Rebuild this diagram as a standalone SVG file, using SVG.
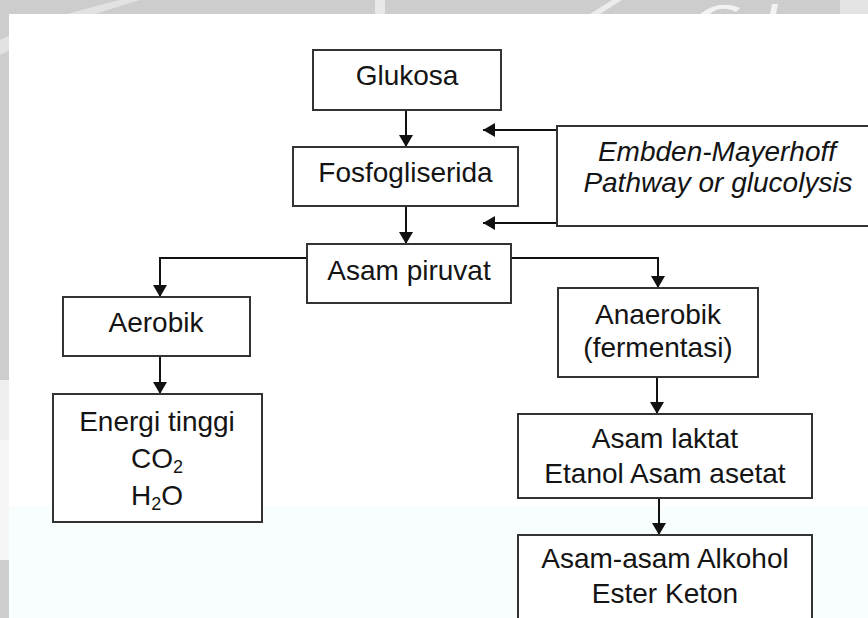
<svg xmlns="http://www.w3.org/2000/svg" width="868" height="618" viewBox="0 0 868 618">
  <defs>
    <marker id="ah" markerUnits="userSpaceOnUse" markerWidth="13" markerHeight="14" refX="12" refY="7" orient="auto">
      <path d="M0,0 L12,7 L0,14 z" fill="#111"/>
    </marker>
    <style>
      .box { fill: #ffffff; stroke: #333333; stroke-width: 2; }
      .t { font-family: "Liberation Sans", Arial, sans-serif; font-size: 28px; fill: #141414; text-anchor: middle; }
      .it { font-style: italic; }
      .sub { font-size: 18px; }
      .c { fill: none; stroke: #111111; stroke-width: 2; }
      .ca { fill: none; stroke: #111111; stroke-width: 2; marker-end: url(#ah); }
    </style>
  </defs>

  <!-- background -->
  <g id="background">
    <rect x="0" y="0" width="868" height="618" fill="#cdcdcd"/>
    <path d="M0,40 C40,20 80,10 120,0 L140,0 C100,12 60,24 0,55 z" fill="#e2e2e2"/>
    <rect x="375" y="0" width="10" height="14" fill="#e8e8e8"/>
    <path d="M590,14 L612,0 L622,0 L600,14 z" fill="#ececec"/>
    <path d="M700,14 C712,4 728,2 740,8 L736,12 C726,7 716,8 710,14 z" fill="#f2f2f2"/>
    <path d="M770,14 L772,4 L778,4 L776,14 z" fill="#f2f2f2"/>
    <rect x="840" y="0" width="28" height="14" fill="#e4e4e4"/>
    <rect x="0" y="380" width="9" height="60" fill="#efefef"/>
    <rect x="0" y="440" width="9" height="120" fill="#f6f6f6"/>
    <rect x="9" y="14" width="859" height="492" fill="#ffffff"/>
    <rect x="9" y="506" width="859" height="112" fill="#f8fdfe"/>
  </g>

  <!-- connectors -->
  <g id="connectors">
    <line class="ca" x1="406" y1="110" x2="406" y2="147"/>
    <line class="ca" x1="406" y1="206" x2="406" y2="244"/>
    <line class="ca" x1="557" y1="130" x2="483" y2="130"/>
    <line class="ca" x1="557" y1="223" x2="483" y2="223"/>
    <polyline class="ca" points="307,258 160,258 160,297"/>
    <polyline class="ca" points="511,258 658,258 658,288"/>
    <line class="ca" x1="160" y1="356" x2="160" y2="394"/>
    <line class="ca" x1="657" y1="377" x2="657" y2="414"/>
    <line class="ca" x1="659" y1="498" x2="659" y2="535"/>
  </g>

  <g id="glukosa">
    <rect class="box" x="313" y="50" width="188" height="60"/>
    <text class="t" x="407" y="85">Glukosa</text>
  </g>

  <g id="fosfogliserida">
    <rect class="box" x="293" y="147" width="225" height="59"/>
    <text class="t" x="405.5" y="182">Fosfogliserida</text>
  </g>

  <g id="embden">
    <rect class="box" x="557" y="126" width="314" height="100"/>
    <text class="t it" x="717" y="161">Embden-Mayerhoff</text>
    <text class="t it" x="718" y="192">Pathway or glucolysis</text>
  </g>

  <g id="asam-piruvat">
    <rect class="box" x="307" y="244" width="204" height="59"/>
    <text class="t" x="409" y="280">Asam piruvat</text>
  </g>

  <g id="aerobik">
    <rect class="box" x="63" y="297" width="187" height="59"/>
    <text class="t" x="156" y="332">Aerobik</text>
  </g>

  <g id="energi">
    <rect class="box" x="53" y="394" width="209" height="128"/>
    <text class="t" x="157" y="431">Energi tinggi</text>
    <text class="t" x="157" y="468">CO<tspan class="sub" dy="5">2</tspan></text>
    <text class="t" x="157" y="505">H<tspan class="sub" dy="5">2</tspan><tspan dy="-5">O</tspan></text>
  </g>

  <g id="anaerobik">
    <rect class="box" x="558" y="288" width="200" height="89"/>
    <text class="t" x="658" y="324">Anaerobik</text>
    <text class="t" x="658" y="357">(fermentasi)</text>
  </g>

  <g id="asam-laktat">
    <rect class="box" x="518" y="414" width="294" height="84"/>
    <text class="t" x="665" y="448">Asam laktat</text>
    <text class="t" x="665" y="483">Etanol Asam asetat</text>
  </g>

  <g id="asam-asam">
    <rect class="box" x="518" y="535" width="294" height="100"/>
    <text class="t" x="665" y="568">Asam-asam Alkohol</text>
    <text class="t" x="665" y="603">Ester Keton</text>
  </g>
</svg>
